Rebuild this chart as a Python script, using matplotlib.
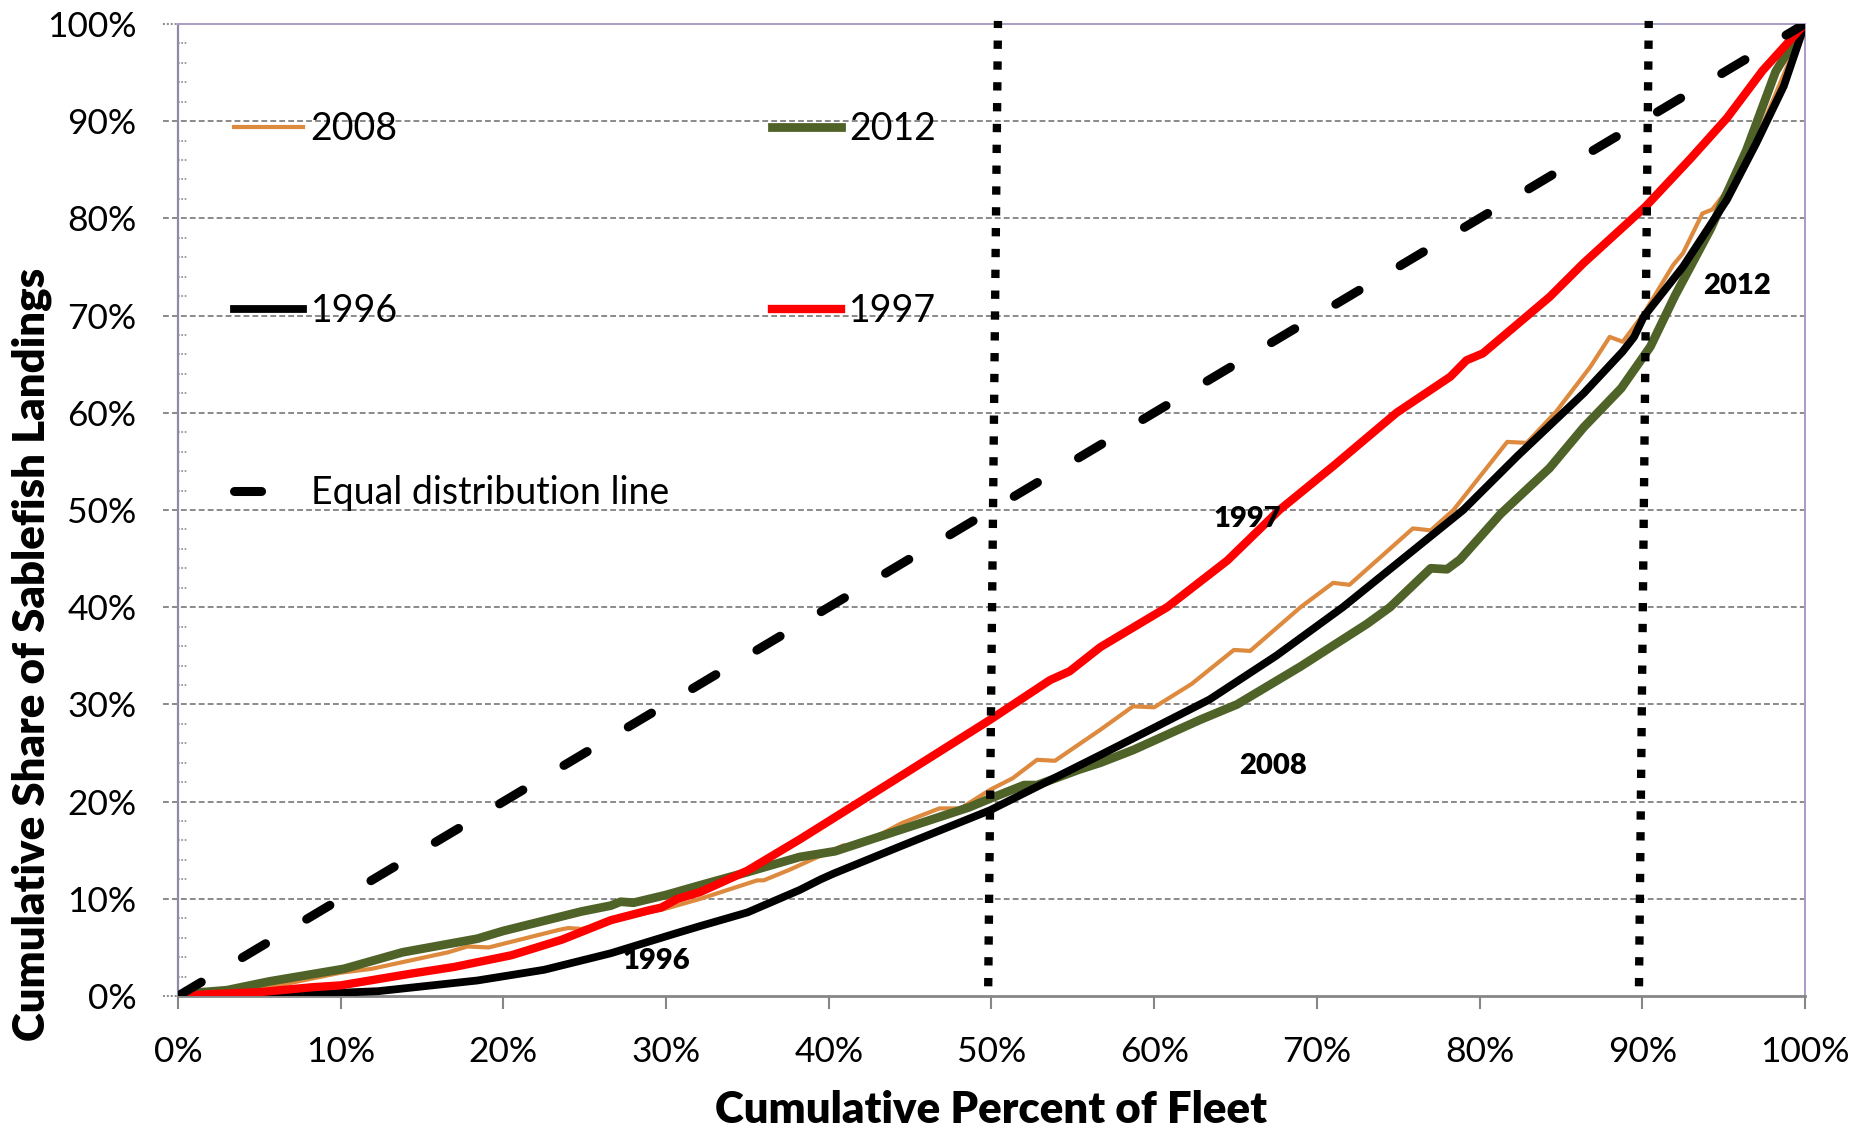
import matplotlib
matplotlib.use('Agg')
import matplotlib.pyplot as plt
from matplotlib.ticker import FuncFormatter

plt.rcParams['font.family'] = ['Lato', 'DejaVu Sans']

# Lorenz-style curves, values (percent of fleet -> percent of landings)
x_2008 = [0, 2, 5.6, 10, 11.9, 16.6, 17.8, 19.1, 23.4, 24, 24.8, 28.1, 30, 32.1, 35.6, 36, 37.6,
          40.9, 41.9, 44.5, 46.8, 48.1, 49.9, 51.3, 52.8, 53.9, 56.7, 58.7, 60, 62.3, 64.9, 65.9,
          69, 71, 72, 75.9, 77, 78.4, 81.7, 82.9, 84.7, 86.8, 88, 88.8, 90.1, 91.9, 92.5, 93.7,
          94.3, 95.5, 97.5, 100]
y_2008 = [0, 0.3, 0.9, 2.4, 2.8, 4.5, 5.1, 5.0, 6.8, 7.0, 6.9, 8.3, 9.0, 10.0, 11.9, 11.9, 13.0,
          15.5, 15.5, 17.8, 19.3, 19.3, 21.2, 22.4, 24.3, 24.2, 27.4, 29.8, 29.7, 32.1, 35.6, 35.5,
          40.0, 42.5, 42.3, 48.1, 47.9, 50.0, 57.0, 56.9, 60.1, 64.7, 67.8, 67.3, 70.2, 75.2, 76.4,
          80.5, 80.9, 83.5, 90.0, 100]

x_2012 = [0, 1.5, 3, 5.6, 10.2, 13.8, 18.4, 20, 24.8, 26.6, 27.2, 28, 30, 32.1, 34.9, 38.2, 40.4,
          44.4, 48.6, 49.9, 52, 52.8, 55.4, 56.7, 58.7, 62.8, 65.1, 69, 73.1, 74.5, 77, 78, 78.8,
          81.3, 84.3, 86.4, 88.7, 90.5, 92.0, 94.2, 96.4, 98.2, 100]
y_2012 = [0, 0.4, 0.6, 1.5, 2.8, 4.5, 5.9, 6.7, 8.7, 9.3, 9.7, 9.6, 10.4, 11.4, 12.7, 14.3, 14.9,
          17.1, 19.4, 20.3, 21.7, 21.7, 23.3, 24.0, 25.3, 28.4, 30.0, 33.9, 38.3, 40.0, 44.0, 43.9, 44.9,
          49.6, 54.3, 58.5, 62.5, 66.8, 72.0, 78.9, 87.0, 95.1, 100]

x_1996 = [0, 5, 8, 12.3, 18.4, 22.5, 26.6, 30.7, 32.1, 35, 38.2, 39.5, 40.3, 44.4, 49.9, 56.7, 60,
          63.4, 67.5, 71.6, 75.3, 79, 82.3, 86.4, 88.8, 89.5, 90.1, 92.5, 95.2, 97, 98.7, 100]
y_1996 = [0, 0, 0.2, 0.5, 1.6, 2.7, 4.4, 6.5, 7.2, 8.6, 10.9, 12.0, 12.6, 15.4, 19.1, 24.8, 27.6,
          30.5, 35.0, 40.0, 45.0, 50.0, 55.5, 62.0, 66.3, 67.8, 69.9, 75.0, 81.9, 87.7, 93.6, 100]

x_1997 = [0, 2, 5, 8.2, 10, 14.3, 17, 20.5, 23.6, 26.6, 28.9, 29.7, 30.7, 32.1, 35, 38.2, 44.4,
          49.9, 53.6, 54.8, 56.7, 60.8, 64.5, 67.7, 71, 74.9, 78.2, 79.2, 80.2, 84.3, 86.4, 90.2,
          93, 95.2, 97.4, 100]
y_1997 = [0, 0.2, 0.4, 0.9, 1.1, 2.3, 3.0, 4.2, 5.8, 7.8, 8.8, 9.1, 10.0, 10.7, 12.9, 16.1, 22.6,
          28.4, 32.5, 33.4, 35.9, 40.0, 44.8, 50.0, 54.5, 60.0, 63.7, 65.4, 66.1, 71.9, 75.4, 81.2,
          86.2, 90.3, 95.2, 100]

equal_x = [0, 100]
equal_y = [0, 100]

# vertical reference lines at 50% and 90% of the fleet (drawn slightly slanted in the original)
ref_top = [50.4, 90.4]
ref_bottom = [49.8, 89.8]

# in-plot labels: (text, x, y)
curve_labels = [('1996', 29.4, 3.6), ('2008', 67.3, 23.7), ('1997', 65.7, 49.1), ('2012', 95.8, 73.0)]

c_2008 = '#DE8A3E'
c_2012 = '#4F6228'
c_1996 = '#000000'
c_1997 = '#FF0000'

fig = plt.figure(figsize=(18.6, 11.36), dpi=100)
ax = fig.add_axes([0.0957, 0.1232, 0.8747, 0.8558])

# gridlines (extend a little left of the axis, like the tick marks in the original)
for v in range(10, 100, 10):
    ax.plot([-0.9, 100], [v, v], color='#8a8a8a', lw=1.4, dashes=(3, 1.6), clip_on=False, zorder=1)
for v in [0, 100]:
    ax.plot([-0.9, 0], [v, v], color='#8a8a8a', lw=1.4, dashes=(1, 1), clip_on=False, zorder=1)
for v in range(2, 100, 2):
    if v % 10:
        ax.plot([0, 0.55], [v, v], color='#8a8a8a', lw=1.2, dashes=(1, 1), clip_on=False, zorder=1)

ax.plot(x_2008, y_2008, color=c_2008, lw=3.0, label='2008', zorder=3, solid_joinstyle='round')
ax.plot(x_2012, y_2012, color=c_2012, lw=6.3, label='2012', zorder=4, solid_joinstyle='round')
ax.plot(x_1996, y_1996, color=c_1996, lw=5.6, label='1996', zorder=5, solid_joinstyle='round')
ax.plot(x_1997, y_1997, color=c_1997, lw=6.0, label='1997', zorder=6, solid_joinstyle='round')
ax.plot(equal_x, equal_y, color='black', lw=6.5, dashes=(3.0, 5.3), dash_capstyle='round',
        label='Equal distribution line', zorder=7)

for xt, xb in zip(ref_top, ref_bottom):
    ax.plot([xb, xt], [1.0, 100.3], color='black', lw=6, dashes=(1, 1.5), dash_capstyle='butt',
            zorder=8, clip_on=False)

for txt, tx, ty in curve_labels:
    ax.text(tx, ty, txt, fontsize=21, fontweight='heavy', ha='center', va='center', zorder=9)

ax.set_xlim(0, 100)
ax.set_ylim(0, 100)
ax.set_xticks(range(0, 101, 10))
ax.set_yticks(range(0, 101, 10))
pct = FuncFormatter(lambda v, p: '%d%%' % v)
ax.xaxis.set_major_formatter(pct)
ax.yaxis.set_major_formatter(pct)
ax.tick_params(axis='x', direction='out', length=9.5, width=1.5, color='#868686',
               labelsize=25.5, pad=19)
ax.tick_params(axis='y', length=0, labelsize=25.5, pad=30)

ax.spines['bottom'].set_color('#868686')
ax.spines['bottom'].set_linewidth(2)
for s in ['top', 'right']:
    ax.spines[s].set_color('#A99BC2')
    ax.spines[s].set_linewidth(1.4)
ax.spines['left'].set_color('#8E8AA8')
ax.spines['left'].set_linewidth(1.6)
ax.spines['left'].set_linestyle((0, (1, 1)))

ax.set_xlabel('Cumulative Percent of Fleet', fontsize=31.5, fontweight='heavy', labelpad=16)
fig.text(0.017, 0.424, 'Cumulative Share of Sablefish Landings', rotation=90, fontsize=31.5,
         fontweight='heavy', ha='center', va='center')

h, l = ax.get_legend_handles_labels()
order = [0, 2, 4, 1, 3]
ax.legend([h[i] for i in order], [l[i] for i in order], ncol=2, fontsize=27, frameon=False,
          loc='upper left', bbox_to_anchor=(0.025, 0.926), handlelength=1.85, handletextpad=0.2,
          labelspacing=3.9, columnspacing=2.75, borderaxespad=0)

fig.savefig('out.png', dpi=100)
